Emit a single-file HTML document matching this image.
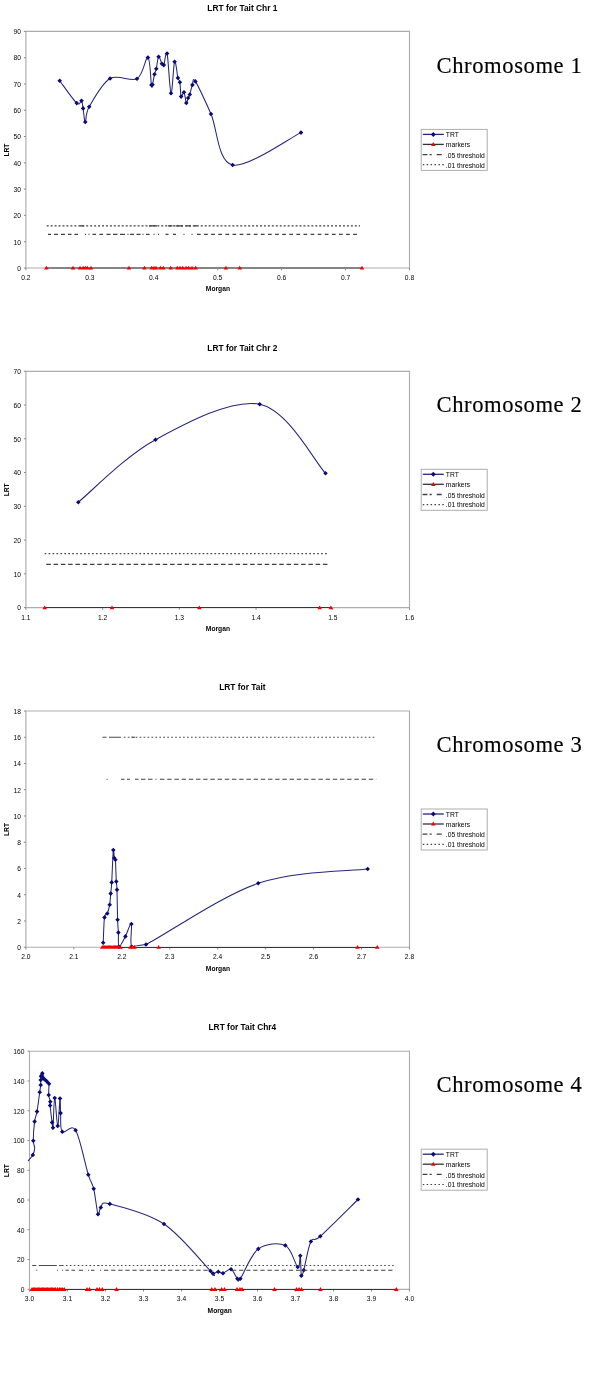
<!DOCTYPE html>
<html><head><meta charset="utf-8"><style>
html,body{margin:0;padding:0;background:#fff;}
svg{display:block;}
text{filter:grayscale(1);}
.t{font-family:"Liberation Sans",sans-serif;font-size:6.7px;fill:#000;}
.a{font-family:"Liberation Sans",sans-serif;font-size:6.7px;font-weight:bold;fill:#000;}
.ti{font-family:"Liberation Sans",sans-serif;font-size:8.4px;font-weight:bold;fill:#000;}
.l{font-family:"Liberation Sans",sans-serif;font-size:6.75px;fill:#000;}
.ch{font-family:"Liberation Serif",serif;font-size:22.6px;letter-spacing:0.6px;fill:#000;stroke:#000;stroke-width:0.15px;}
</style></head><body>
<svg width="600" height="1376" viewBox="0 0 600 1376">
<rect width="600" height="1376" fill="#fff"/>
<path d="M25.9 31.4H409.5V268H25.9Z" fill="none" stroke="#adadad" stroke-width="1.15"/>
<path d="M23.9 268H25.9" stroke="#8a8a8a" stroke-width="1"/>
<text x="20.9" y="270.8" class="t" text-anchor="end">0</text>
<path d="M23.9 241.71H25.9" stroke="#8a8a8a" stroke-width="1"/>
<text x="20.9" y="244.51" class="t" text-anchor="end">10</text>
<path d="M23.9 215.42H25.9" stroke="#8a8a8a" stroke-width="1"/>
<text x="20.9" y="218.22" class="t" text-anchor="end">20</text>
<path d="M23.9 189.13H25.9" stroke="#8a8a8a" stroke-width="1"/>
<text x="20.9" y="191.93" class="t" text-anchor="end">30</text>
<path d="M23.9 162.84H25.9" stroke="#8a8a8a" stroke-width="1"/>
<text x="20.9" y="165.64" class="t" text-anchor="end">40</text>
<path d="M23.9 136.56H25.9" stroke="#8a8a8a" stroke-width="1"/>
<text x="20.9" y="139.36" class="t" text-anchor="end">50</text>
<path d="M23.9 110.27H25.9" stroke="#8a8a8a" stroke-width="1"/>
<text x="20.9" y="113.07" class="t" text-anchor="end">60</text>
<path d="M23.9 83.98H25.9" stroke="#8a8a8a" stroke-width="1"/>
<text x="20.9" y="86.78" class="t" text-anchor="end">70</text>
<path d="M23.9 57.69H25.9" stroke="#8a8a8a" stroke-width="1"/>
<text x="20.9" y="60.49" class="t" text-anchor="end">80</text>
<path d="M23.9 31.4H25.9" stroke="#8a8a8a" stroke-width="1"/>
<text x="20.9" y="34.2" class="t" text-anchor="end">90</text>
<path d="M25.9 268V270.2" stroke="#8a8a8a" stroke-width="1"/>
<text x="25.9" y="279.9" class="t" text-anchor="middle">0.2</text>
<path d="M89.83 268V270.2" stroke="#8a8a8a" stroke-width="1"/>
<text x="89.83" y="279.9" class="t" text-anchor="middle">0.3</text>
<path d="M153.77 268V270.2" stroke="#8a8a8a" stroke-width="1"/>
<text x="153.77" y="279.9" class="t" text-anchor="middle">0.4</text>
<path d="M217.7 268V270.2" stroke="#8a8a8a" stroke-width="1"/>
<text x="217.7" y="279.9" class="t" text-anchor="middle">0.5</text>
<path d="M281.63 268V270.2" stroke="#8a8a8a" stroke-width="1"/>
<text x="281.63" y="279.9" class="t" text-anchor="middle">0.6</text>
<path d="M345.57 268V270.2" stroke="#8a8a8a" stroke-width="1"/>
<text x="345.57" y="279.9" class="t" text-anchor="middle">0.7</text>
<path d="M409.5 268V270.2" stroke="#8a8a8a" stroke-width="1"/>
<text x="409.5" y="279.9" class="t" text-anchor="middle">0.8</text>
<text x="217.9" y="291.3" class="a" text-anchor="middle">Morgan</text>
<text transform="translate(8.5 150.1) rotate(-90)" class="a" text-anchor="middle">LRT</text>
<text x="242.4" y="10.6" class="ti" text-anchor="middle">LRT for Tait Chr 1</text>
<text x="436.5" y="72.5" class="ch">Chromosome 1</text>
<path d="M59.7 80.7 C62.53 84.43 73.07 99.75 76.7 103.1 C80.33 106.45 80.43 99.92 81.5 100.8 C82.57 101.68 82.47 104.87 83.1 108.4 C83.73 111.93 84.28 122.27 85.3 122 C86.32 121.73 85.07 114.05 89.2 106.8 C93.33 99.55 102.13 83.17 110.1 78.5 C118.07 73.83 130.7 82.28 137 78.8 C143.3 75.32 145.5 56.57 147.9 57.6 C150.3 58.63 150.63 80.48 151.4 85 C152.17 89.52 151.98 86.5 152.5 84.7 C153.02 82.9 153.87 76.87 154.5 74.2 C155.13 71.53 155.62 71.62 156.3 68.7 C156.98 65.78 157.67 57.53 158.6 56.7 C159.53 55.87 161.03 62.3 161.9 63.7 C162.77 65.1 162.93 66.8 163.8 65.1 C164.67 63.4 165.9 48.82 167.1 53.5 C168.3 58.18 169.75 91.83 171 93.2 C172.25 94.57 173.45 64.25 174.6 61.7 C175.75 59.15 177.02 74.47 177.9 77.9 C178.78 81.33 179.37 79.18 179.9 82.3 C180.43 85.42 180.42 94.95 181.1 96.6 C181.78 98.25 183.13 91.13 184 92.2 C184.87 93.27 185.62 102.03 186.3 103 C186.98 103.97 187.52 99.42 188.1 98 C188.68 96.58 189.08 96.68 189.8 94.5 C190.52 92.32 191.47 87.08 192.4 84.9 C193.33 82.72 192.3 76.55 195.4 81.4 C198.5 86.25 204.8 100.07 211 114 C217.2 127.93 217.6 161.9 232.6 165 C247.6 168.1 289.6 138 301 132.6" fill="none" stroke="#26267a" stroke-width="1.05"/>
<path d="M59.7 78.4l2.3 2.3l-2.3 2.3l-2.3 -2.3zM76.7 100.8l2.3 2.3l-2.3 2.3l-2.3 -2.3zM81.5 98.5l2.3 2.3l-2.3 2.3l-2.3 -2.3zM83.1 106.1l2.3 2.3l-2.3 2.3l-2.3 -2.3zM85.3 119.7l2.3 2.3l-2.3 2.3l-2.3 -2.3zM89.2 104.5l2.3 2.3l-2.3 2.3l-2.3 -2.3zM110.1 76.2l2.3 2.3l-2.3 2.3l-2.3 -2.3zM137 76.5l2.3 2.3l-2.3 2.3l-2.3 -2.3zM147.9 55.3l2.3 2.3l-2.3 2.3l-2.3 -2.3zM151.4 82.7l2.3 2.3l-2.3 2.3l-2.3 -2.3zM152.5 82.4l2.3 2.3l-2.3 2.3l-2.3 -2.3zM154.5 71.9l2.3 2.3l-2.3 2.3l-2.3 -2.3zM156.3 66.4l2.3 2.3l-2.3 2.3l-2.3 -2.3zM158.6 54.4l2.3 2.3l-2.3 2.3l-2.3 -2.3zM161.9 61.4l2.3 2.3l-2.3 2.3l-2.3 -2.3zM163.8 62.8l2.3 2.3l-2.3 2.3l-2.3 -2.3zM167.1 51.2l2.3 2.3l-2.3 2.3l-2.3 -2.3zM171 90.9l2.3 2.3l-2.3 2.3l-2.3 -2.3zM174.6 59.4l2.3 2.3l-2.3 2.3l-2.3 -2.3zM177.9 75.6l2.3 2.3l-2.3 2.3l-2.3 -2.3zM179.9 80l2.3 2.3l-2.3 2.3l-2.3 -2.3zM181.1 94.3l2.3 2.3l-2.3 2.3l-2.3 -2.3zM184 89.9l2.3 2.3l-2.3 2.3l-2.3 -2.3zM186.3 100.7l2.3 2.3l-2.3 2.3l-2.3 -2.3zM188.1 95.7l2.3 2.3l-2.3 2.3l-2.3 -2.3zM189.8 92.2l2.3 2.3l-2.3 2.3l-2.3 -2.3zM192.4 82.6l2.3 2.3l-2.3 2.3l-2.3 -2.3zM195.4 79.1l2.3 2.3l-2.3 2.3l-2.3 -2.3zM211 111.7l2.3 2.3l-2.3 2.3l-2.3 -2.3zM232.6 162.7l2.3 2.3l-2.3 2.3l-2.3 -2.3zM301 130.3l2.3 2.3l-2.3 2.3l-2.3 -2.3z" fill="#0a0a78"/>
<path d="M46.3 268H362" stroke="#858585" stroke-width="2.0"/>
<path d="M46.3 265.8l2.3 3.8h-4.6zM73 265.8l2.3 3.8h-4.6zM80 265.8l2.3 3.8h-4.6zM83.1 265.8l2.3 3.8h-4.6zM85.3 265.8l2.3 3.8h-4.6zM87.3 265.8l2.3 3.8h-4.6zM91 265.8l2.3 3.8h-4.6zM129 265.8l2.3 3.8h-4.6zM144.4 265.8l2.3 3.8h-4.6zM151.7 265.8l2.3 3.8h-4.6zM154 265.8l2.3 3.8h-4.6zM156 265.8l2.3 3.8h-4.6zM160.4 265.8l2.3 3.8h-4.6zM163.3 265.8l2.3 3.8h-4.6zM170.7 265.8l2.3 3.8h-4.6zM177.3 265.8l2.3 3.8h-4.6zM180 265.8l2.3 3.8h-4.6zM182.7 265.8l2.3 3.8h-4.6zM186 265.8l2.3 3.8h-4.6zM188.7 265.8l2.3 3.8h-4.6zM192 265.8l2.3 3.8h-4.6zM195.7 265.8l2.3 3.8h-4.6zM225.9 265.8l2.3 3.8h-4.6zM239.7 265.8l2.3 3.8h-4.6zM362 265.8l2.3 3.8h-4.6z" fill="#f20000"/>
<path d="M197 234.35H360" stroke="#404040" stroke-width="1.3" stroke-dasharray="3.7 3.4"/>
<path d="M48 234.35H51M54 234.35H58M61 234.35H65M68 234.35H71.5M74.5 234.35H78M85 234.35H86M88.5 234.35H89.5M92.5 234.35H96M99.5 234.35H103M106.5 234.35H110.5M113 234.35H117.5M120 234.35H125M127.5 234.35H128.5M130 234.35H134M136.5 234.35H140.5M142.5 234.35H143.5M146 234.35H149.5M153.5 234.35H154.5M158 234.35H159M165.5 234.35H168.5M173 234.35H176M183.5 234.35H184.5M191.5 234.35H192.5" stroke="#404040" stroke-width="1.3"/>
<path d="M46.7 225.94H360" stroke="#404040" stroke-width="1.3" stroke-dasharray="2 1.95"/>
<path d="M80 225.94H84M149 225.94H157M168 225.94H172.5M175.5 225.94H183M186 225.94H191M194 225.94H197" stroke="#404040" stroke-width="1.3"/>
<rect x="421.2" y="129.4" width="66" height="41" fill="none" stroke="#adadad" stroke-width="1"/>
<path d="M422.8 134.4H443.8" stroke="#26267a" stroke-width="1.3"/>
<path d="M433.3 131.9l2.4 2.5l-2.4 2.5l-2.4 -2.5z" fill="#0a0a78"/>
<path d="M422.8 144.4H443.8" stroke="#333333" stroke-width="1.3"/>
<path d="M433.3 142l2.2 4h-4.4z" fill="#f20000"/>
<path d="M422.6 154.6H442.3" stroke="#404040" stroke-width="1.3" stroke-dasharray="4.8 2.2 2.1 5 5 9"/>
<path d="M422.8 164.7H443.8" stroke="#404040" stroke-width="1.2" stroke-dasharray="1.5 2.4"/>
<text x="445.8" y="137.3" class="l">TRT</text>
<text x="445.8" y="147.3" class="l">markers</text>
<text x="445.8" y="157.7" class="l">.05 threshold</text>
<text x="445.8" y="167.5" class="l">.01 threshold</text>
<path d="M25.9 371.3H409.5V607.6H25.9Z" fill="none" stroke="#adadad" stroke-width="1.15"/>
<path d="M23.9 607.6H25.9" stroke="#8a8a8a" stroke-width="1"/>
<text x="20.9" y="610.4" class="t" text-anchor="end">0</text>
<path d="M23.9 573.84H25.9" stroke="#8a8a8a" stroke-width="1"/>
<text x="20.9" y="576.64" class="t" text-anchor="end">10</text>
<path d="M23.9 540.09H25.9" stroke="#8a8a8a" stroke-width="1"/>
<text x="20.9" y="542.89" class="t" text-anchor="end">20</text>
<path d="M23.9 506.33H25.9" stroke="#8a8a8a" stroke-width="1"/>
<text x="20.9" y="509.13" class="t" text-anchor="end">30</text>
<path d="M23.9 472.57H25.9" stroke="#8a8a8a" stroke-width="1"/>
<text x="20.9" y="475.37" class="t" text-anchor="end">40</text>
<path d="M23.9 438.81H25.9" stroke="#8a8a8a" stroke-width="1"/>
<text x="20.9" y="441.61" class="t" text-anchor="end">50</text>
<path d="M23.9 405.06H25.9" stroke="#8a8a8a" stroke-width="1"/>
<text x="20.9" y="407.86" class="t" text-anchor="end">60</text>
<path d="M23.9 371.3H25.9" stroke="#8a8a8a" stroke-width="1"/>
<text x="20.9" y="374.1" class="t" text-anchor="end">70</text>
<path d="M25.9 607.6V609.8" stroke="#8a8a8a" stroke-width="1"/>
<text x="25.9" y="619.5" class="t" text-anchor="middle">1.1</text>
<path d="M102.62 607.6V609.8" stroke="#8a8a8a" stroke-width="1"/>
<text x="102.62" y="619.5" class="t" text-anchor="middle">1.2</text>
<path d="M179.34 607.6V609.8" stroke="#8a8a8a" stroke-width="1"/>
<text x="179.34" y="619.5" class="t" text-anchor="middle">1.3</text>
<path d="M256.06 607.6V609.8" stroke="#8a8a8a" stroke-width="1"/>
<text x="256.06" y="619.5" class="t" text-anchor="middle">1.4</text>
<path d="M332.78 607.6V609.8" stroke="#8a8a8a" stroke-width="1"/>
<text x="332.78" y="619.5" class="t" text-anchor="middle">1.5</text>
<path d="M409.5 607.6V609.8" stroke="#8a8a8a" stroke-width="1"/>
<text x="409.5" y="619.5" class="t" text-anchor="middle">1.6</text>
<text x="217.9" y="630.9" class="a" text-anchor="middle">Morgan</text>
<text transform="translate(8.5 489.85) rotate(-90)" class="a" text-anchor="middle">LRT</text>
<text x="242.4" y="350.5" class="ti" text-anchor="middle">LRT for Tait Chr 2</text>
<text x="436.5" y="412.4" class="ch">Chromosome 2</text>
<path d="M78.3 502.2 C91.17 491.78 125.27 456.03 155.5 439.7 C185.73 423.37 231.37 398.6 259.7 404.2 C288.03 409.8 314.53 461.78 325.5 473.3" fill="none" stroke="#26267a" stroke-width="1.05"/>
<path d="M78.3 499.9l2.3 2.3l-2.3 2.3l-2.3 -2.3zM155.5 437.4l2.3 2.3l-2.3 2.3l-2.3 -2.3zM259.7 401.9l2.3 2.3l-2.3 2.3l-2.3 -2.3zM325.5 471l2.3 2.3l-2.3 2.3l-2.3 -2.3z" fill="#0a0a78"/>
<path d="M44.7 607.5H330.9" stroke="#363636" stroke-width="1.15"/>
<path d="M44.7 605.4l2.3 3.8h-4.6zM112 605.4l2.3 3.8h-4.6zM199.3 605.4l2.3 3.8h-4.6zM319.7 605.4l2.3 3.8h-4.6zM330.9 605.4l2.3 3.8h-4.6z" fill="#f20000"/>
<path d="M46.3 564.39H330" stroke="#404040" stroke-width="1.15" stroke-dasharray="4.5 2.78"/>
<path d="M44.6 553.59H329" stroke="#4a4a4a" stroke-width="1.1" stroke-dasharray="1.7 2.25"/>
<rect x="421.2" y="469.3" width="66" height="41" fill="none" stroke="#adadad" stroke-width="1"/>
<path d="M422.8 474.3H443.8" stroke="#26267a" stroke-width="1.3"/>
<path d="M433.3 471.8l2.4 2.5l-2.4 2.5l-2.4 -2.5z" fill="#0a0a78"/>
<path d="M422.8 484.3H443.8" stroke="#333333" stroke-width="1.3"/>
<path d="M433.3 481.9l2.2 4h-4.4z" fill="#f20000"/>
<path d="M422.6 494.5H442.3" stroke="#404040" stroke-width="1.3" stroke-dasharray="4.8 2.2 2.1 5 5 9"/>
<path d="M422.8 504.6H443.8" stroke="#404040" stroke-width="1.2" stroke-dasharray="1.5 2.4"/>
<text x="445.8" y="477.2" class="l">TRT</text>
<text x="445.8" y="487.2" class="l">markers</text>
<text x="445.8" y="497.6" class="l">.05 threshold</text>
<text x="445.8" y="507.4" class="l">.01 threshold</text>
<path d="M25.9 711H409.5V947.2H25.9Z" fill="none" stroke="#adadad" stroke-width="1.15"/>
<path d="M23.9 947.2H25.9" stroke="#8a8a8a" stroke-width="1"/>
<text x="20.9" y="950" class="t" text-anchor="end">0</text>
<path d="M23.9 920.96H25.9" stroke="#8a8a8a" stroke-width="1"/>
<text x="20.9" y="923.76" class="t" text-anchor="end">2</text>
<path d="M23.9 894.71H25.9" stroke="#8a8a8a" stroke-width="1"/>
<text x="20.9" y="897.51" class="t" text-anchor="end">4</text>
<path d="M23.9 868.47H25.9" stroke="#8a8a8a" stroke-width="1"/>
<text x="20.9" y="871.27" class="t" text-anchor="end">6</text>
<path d="M23.9 842.22H25.9" stroke="#8a8a8a" stroke-width="1"/>
<text x="20.9" y="845.02" class="t" text-anchor="end">8</text>
<path d="M23.9 815.98H25.9" stroke="#8a8a8a" stroke-width="1"/>
<text x="20.9" y="818.78" class="t" text-anchor="end">10</text>
<path d="M23.9 789.73H25.9" stroke="#8a8a8a" stroke-width="1"/>
<text x="20.9" y="792.53" class="t" text-anchor="end">12</text>
<path d="M23.9 763.49H25.9" stroke="#8a8a8a" stroke-width="1"/>
<text x="20.9" y="766.29" class="t" text-anchor="end">14</text>
<path d="M23.9 737.24H25.9" stroke="#8a8a8a" stroke-width="1"/>
<text x="20.9" y="740.04" class="t" text-anchor="end">16</text>
<path d="M23.9 711H25.9" stroke="#8a8a8a" stroke-width="1"/>
<text x="20.9" y="713.8" class="t" text-anchor="end">18</text>
<path d="M25.9 947.2V949.4" stroke="#8a8a8a" stroke-width="1"/>
<text x="25.9" y="959.1" class="t" text-anchor="middle">2.0</text>
<path d="M73.85 947.2V949.4" stroke="#8a8a8a" stroke-width="1"/>
<text x="73.85" y="959.1" class="t" text-anchor="middle">2.1</text>
<path d="M121.8 947.2V949.4" stroke="#8a8a8a" stroke-width="1"/>
<text x="121.8" y="959.1" class="t" text-anchor="middle">2.2</text>
<path d="M169.75 947.2V949.4" stroke="#8a8a8a" stroke-width="1"/>
<text x="169.75" y="959.1" class="t" text-anchor="middle">2.3</text>
<path d="M217.7 947.2V949.4" stroke="#8a8a8a" stroke-width="1"/>
<text x="217.7" y="959.1" class="t" text-anchor="middle">2.4</text>
<path d="M265.65 947.2V949.4" stroke="#8a8a8a" stroke-width="1"/>
<text x="265.65" y="959.1" class="t" text-anchor="middle">2.5</text>
<path d="M313.6 947.2V949.4" stroke="#8a8a8a" stroke-width="1"/>
<text x="313.6" y="959.1" class="t" text-anchor="middle">2.6</text>
<path d="M361.55 947.2V949.4" stroke="#8a8a8a" stroke-width="1"/>
<text x="361.55" y="959.1" class="t" text-anchor="middle">2.7</text>
<path d="M409.5 947.2V949.4" stroke="#8a8a8a" stroke-width="1"/>
<text x="409.5" y="959.1" class="t" text-anchor="middle">2.8</text>
<text x="217.9" y="970.5" class="a" text-anchor="middle">Morgan</text>
<text transform="translate(8.5 829.5) rotate(-90)" class="a" text-anchor="middle">LRT</text>
<text x="242.4" y="690.2" class="ti" text-anchor="middle">LRT for Tait</text>
<text x="436.5" y="752.1" class="ch">Chromosome 3</text>
<path d="M103.2 942.7 C103.42 938.48 103.82 922.27 104.5 917.4 C105.18 912.53 106.43 915.62 107.3 913.5 C108.17 911.38 109.13 908.02 109.7 904.7 C110.27 901.38 110.37 897.32 110.7 893.6 C111.03 889.88 111.27 889.67 111.7 882.4 C112.13 875.13 112.87 854.07 113.3 850 C113.73 845.93 113.95 856.38 114.3 858 C114.65 859.62 115.07 855.77 115.4 859.7 C115.73 863.63 116.03 876.6 116.3 881.6 C116.57 886.6 116.78 883.33 117 889.7 C117.22 896.07 117.37 912.65 117.6 919.8 C117.83 926.95 118.17 928.1 118.4 932.6 C118.63 937.1 117.83 946.17 119 946.8 C120.17 947.2 123.33 940.2 125.4 936.4 C127.47 932.6 130.33 922.27 131.4 924 C132.47 925.73 129.37 943.38 131.8 946.8 C134.23 947.2 124.93 947.2 146 944.5 C167.07 933.92 221.25 895.88 258.2 883.3 C295.15 870.72 349.45 871.38 367.7 869" fill="none" stroke="#26267a" stroke-width="1.05"/>
<path d="M103.2 940.4l2.3 2.3l-2.3 2.3l-2.3 -2.3zM104.5 915.1l2.3 2.3l-2.3 2.3l-2.3 -2.3zM107.3 911.2l2.3 2.3l-2.3 2.3l-2.3 -2.3zM109.7 902.4l2.3 2.3l-2.3 2.3l-2.3 -2.3zM110.7 891.3l2.3 2.3l-2.3 2.3l-2.3 -2.3zM111.7 880.1l2.3 2.3l-2.3 2.3l-2.3 -2.3zM113.3 847.7l2.3 2.3l-2.3 2.3l-2.3 -2.3zM114.3 855.7l2.3 2.3l-2.3 2.3l-2.3 -2.3zM115.4 857.4l2.3 2.3l-2.3 2.3l-2.3 -2.3zM116.3 879.3l2.3 2.3l-2.3 2.3l-2.3 -2.3zM117 887.4l2.3 2.3l-2.3 2.3l-2.3 -2.3zM117.6 917.5l2.3 2.3l-2.3 2.3l-2.3 -2.3zM118.4 930.3l2.3 2.3l-2.3 2.3l-2.3 -2.3zM119 944.5l2.3 2.3l-2.3 2.3l-2.3 -2.3zM125.4 934.1l2.3 2.3l-2.3 2.3l-2.3 -2.3zM131.4 921.7l2.3 2.3l-2.3 2.3l-2.3 -2.3zM131.8 944.5l2.3 2.3l-2.3 2.3l-2.3 -2.3zM146 942.2l2.3 2.3l-2.3 2.3l-2.3 -2.3zM258.2 881l2.3 2.3l-2.3 2.3l-2.3 -2.3zM367.7 866.7l2.3 2.3l-2.3 2.3l-2.3 -2.3z" fill="#0a0a78"/>
<path d="M102.3 947.5H377.3" stroke="#363636" stroke-width="1.15"/>
<path d="M102.3 945l2.3 3.8h-4.6zM103.5 945l2.3 3.8h-4.6zM104.7 945l2.3 3.8h-4.6zM105.9 945l2.3 3.8h-4.6zM107.1 945l2.3 3.8h-4.6zM108.3 945l2.3 3.8h-4.6zM109.5 945l2.3 3.8h-4.6zM110.7 945l2.3 3.8h-4.6zM111.9 945l2.3 3.8h-4.6zM113.1 945l2.3 3.8h-4.6zM114.3 945l2.3 3.8h-4.6zM115.5 945l2.3 3.8h-4.6zM116.7 945l2.3 3.8h-4.6zM117.9 945l2.3 3.8h-4.6zM119.1 945l2.3 3.8h-4.6zM120.3 945l2.3 3.8h-4.6zM130.5 945l2.3 3.8h-4.6zM132.5 945l2.3 3.8h-4.6zM134.4 945l2.3 3.8h-4.6zM158.6 945l2.3 3.8h-4.6zM357.5 945l2.3 3.8h-4.6zM377.3 945l2.3 3.8h-4.6z" fill="#f20000"/>
<path d="M160 779.24H376.2" stroke="#404040" stroke-width="1.15" stroke-dasharray="4.4 2.8"/>
<path d="M106.6 779.24H107.6M121 779.24H124.5M127 779.24H130M135 779.24H138.5M141 779.24H145.5M148 779.24H152.5M155.5 779.24H156.5" stroke="#404040" stroke-width="1.15"/>
<path d="M123.8 737.24H375.5" stroke="#4a4a4a" stroke-width="1.1" stroke-dasharray="1.7 2.25"/>
<path d="M102.5 737.24H106.5M109 737.24H121M131.5 737.24H135" stroke="#4a4a4a" stroke-width="1.1"/>
<rect x="421.2" y="809" width="66" height="41" fill="none" stroke="#adadad" stroke-width="1"/>
<path d="M422.8 814H443.8" stroke="#26267a" stroke-width="1.3"/>
<path d="M433.3 811.5l2.4 2.5l-2.4 2.5l-2.4 -2.5z" fill="#0a0a78"/>
<path d="M422.8 824H443.8" stroke="#333333" stroke-width="1.3"/>
<path d="M433.3 821.6l2.2 4h-4.4z" fill="#f20000"/>
<path d="M422.6 834.2H442.3" stroke="#404040" stroke-width="1.3" stroke-dasharray="4.8 2.2 2.1 5 5 9"/>
<path d="M422.8 844.3H443.8" stroke="#404040" stroke-width="1.2" stroke-dasharray="1.5 2.4"/>
<text x="445.8" y="816.9" class="l">TRT</text>
<text x="445.8" y="826.9" class="l">markers</text>
<text x="445.8" y="837.3" class="l">.05 threshold</text>
<text x="445.8" y="847.1" class="l">.01 threshold</text>
<path d="M29.5 1051.2H409.5V1289.3H29.5Z" fill="none" stroke="#adadad" stroke-width="1.15"/>
<path d="M27.5 1289.3H29.5" stroke="#8a8a8a" stroke-width="1"/>
<text x="24.5" y="1292.1" class="t" text-anchor="end">0</text>
<path d="M27.5 1259.54H29.5" stroke="#8a8a8a" stroke-width="1"/>
<text x="24.5" y="1262.34" class="t" text-anchor="end">20</text>
<path d="M27.5 1229.78H29.5" stroke="#8a8a8a" stroke-width="1"/>
<text x="24.5" y="1232.58" class="t" text-anchor="end">40</text>
<path d="M27.5 1200.01H29.5" stroke="#8a8a8a" stroke-width="1"/>
<text x="24.5" y="1202.81" class="t" text-anchor="end">60</text>
<path d="M27.5 1170.25H29.5" stroke="#8a8a8a" stroke-width="1"/>
<text x="24.5" y="1173.05" class="t" text-anchor="end">80</text>
<path d="M27.5 1140.49H29.5" stroke="#8a8a8a" stroke-width="1"/>
<text x="24.5" y="1143.29" class="t" text-anchor="end">100</text>
<path d="M27.5 1110.72H29.5" stroke="#8a8a8a" stroke-width="1"/>
<text x="24.5" y="1113.52" class="t" text-anchor="end">120</text>
<path d="M27.5 1080.96H29.5" stroke="#8a8a8a" stroke-width="1"/>
<text x="24.5" y="1083.76" class="t" text-anchor="end">140</text>
<path d="M27.5 1051.2H29.5" stroke="#8a8a8a" stroke-width="1"/>
<text x="24.5" y="1054" class="t" text-anchor="end">160</text>
<path d="M29.5 1289.3V1291.5" stroke="#8a8a8a" stroke-width="1"/>
<text x="29.5" y="1301.2" class="t" text-anchor="middle">3.0</text>
<path d="M67.5 1289.3V1291.5" stroke="#8a8a8a" stroke-width="1"/>
<text x="67.5" y="1301.2" class="t" text-anchor="middle">3.1</text>
<path d="M105.5 1289.3V1291.5" stroke="#8a8a8a" stroke-width="1"/>
<text x="105.5" y="1301.2" class="t" text-anchor="middle">3.2</text>
<path d="M143.5 1289.3V1291.5" stroke="#8a8a8a" stroke-width="1"/>
<text x="143.5" y="1301.2" class="t" text-anchor="middle">3.3</text>
<path d="M181.5 1289.3V1291.5" stroke="#8a8a8a" stroke-width="1"/>
<text x="181.5" y="1301.2" class="t" text-anchor="middle">3.4</text>
<path d="M219.5 1289.3V1291.5" stroke="#8a8a8a" stroke-width="1"/>
<text x="219.5" y="1301.2" class="t" text-anchor="middle">3.5</text>
<path d="M257.5 1289.3V1291.5" stroke="#8a8a8a" stroke-width="1"/>
<text x="257.5" y="1301.2" class="t" text-anchor="middle">3.6</text>
<path d="M295.5 1289.3V1291.5" stroke="#8a8a8a" stroke-width="1"/>
<text x="295.5" y="1301.2" class="t" text-anchor="middle">3.7</text>
<path d="M333.5 1289.3V1291.5" stroke="#8a8a8a" stroke-width="1"/>
<text x="333.5" y="1301.2" class="t" text-anchor="middle">3.8</text>
<path d="M371.5 1289.3V1291.5" stroke="#8a8a8a" stroke-width="1"/>
<text x="371.5" y="1301.2" class="t" text-anchor="middle">3.9</text>
<path d="M409.5 1289.3V1291.5" stroke="#8a8a8a" stroke-width="1"/>
<text x="409.5" y="1301.2" class="t" text-anchor="middle">4.0</text>
<text x="219.7" y="1312.6" class="a" text-anchor="middle">Morgan</text>
<text transform="translate(8.5 1170.65) rotate(-90)" class="a" text-anchor="middle">LRT</text>
<text x="242.4" y="1030.4" class="ti" text-anchor="middle">LRT for Tait Chr4</text>
<text x="436.5" y="1092.3" class="ch">Chromosome 4</text>
<path d="M28 1161 C28.8 1160 31.68 1157.17 32.8 1155 C33.92 1152.83 34.62 1150.37 34.7 1148 C34.78 1145.63 33.32 1145.2 33.3 1140.8 C33.28 1136.4 33.98 1126.47 34.6 1121.6 C35.22 1116.73 36.15 1116.5 37 1111.6 C37.85 1106.7 39.08 1096.63 39.7 1092.2 C40.32 1087.77 40.53 1087.03 40.7 1085 C40.87 1082.97 40.65 1081.45 40.7 1080 C40.75 1078.55 40.73 1077.42 41 1076.3 C41.27 1075.18 42.13 1073.52 42.3 1073.3 C42.47 1073.08 41.93 1074.33 42 1075 C42.07 1075.67 42.37 1076.63 42.7 1077.3 C43.03 1077.97 43.57 1078.55 44 1079 C44.43 1079.45 44.85 1079.62 45.3 1080 C45.75 1080.38 46.25 1080.85 46.7 1081.3 C47.15 1081.75 47.62 1082.3 48 1082.7 C48.38 1083.1 48.88 1081.65 49 1083.7 C49.12 1085.75 48.48 1092 48.7 1095 C48.92 1098 50.07 1099.95 50.3 1101.7 C50.53 1103.45 49.8 1102.05 50.1 1105.5 C50.4 1108.95 51.62 1118.7 52.1 1122.4 C52.58 1126.1 52.57 1131.77 53 1127.7 C53.43 1123.63 53.92 1098.3 54.7 1098 C55.48 1097.7 56.82 1125.82 57.7 1125.9 C58.58 1125.98 59.52 1100.63 60 1098.5 C60.48 1096.37 60.22 1107.55 60.6 1113.1 C60.98 1118.65 59.8 1128.95 62.3 1131.8 C64.8 1134.65 71.27 1123.05 75.6 1130.2 C79.93 1137.35 85.28 1164.93 88.3 1174.7 C91.32 1184.47 92.08 1182.22 93.7 1188.8 C95.32 1195.38 96.82 1211.08 98 1214.2 C99.18 1217.32 98.83 1209.22 100.8 1207.5 C102.77 1205.78 99.27 1201.15 109.8 1203.9 C120.33 1206.65 147.22 1212.82 164 1224 C180.78 1235.18 202.33 1262.73 210.5 1271 C218.67 1279.27 211.7 1273.48 213 1273.6 C214.3 1273.72 216.63 1271.75 218.3 1271.7 C219.97 1271.65 220.88 1273.7 223 1273.3 C225.12 1272.9 228.6 1268.4 231 1269.3 C233.4 1270.2 235.85 1277.13 237.4 1278.7 C238.95 1280.27 236.82 1283.67 240.3 1278.7 C243.78 1273.73 250.8 1254.45 258.3 1248.9 C265.8 1243.35 278.73 1242.38 285.3 1245.4 C291.87 1248.42 295.2 1265.28 297.7 1267 C300.2 1268.72 299.7 1254.25 300.3 1255.7 C300.9 1257.15 300.73 1273.27 301.3 1275.7 C301.87 1278.13 302.1 1276 303.7 1270.3 C305.3 1264.6 308.13 1247.17 310.9 1241.5 C313.67 1235.83 312.45 1243.3 320.3 1236.3 C328.15 1229.3 351.72 1205.63 358 1199.5" fill="none" stroke="#26267a" stroke-width="1.05"/>
<path d="M32.8 1152.7l2.3 2.3l-2.3 2.3l-2.3 -2.3zM33.3 1138.5l2.3 2.3l-2.3 2.3l-2.3 -2.3zM34.6 1119.3l2.3 2.3l-2.3 2.3l-2.3 -2.3zM37 1109.3l2.3 2.3l-2.3 2.3l-2.3 -2.3zM39.7 1089.9l2.3 2.3l-2.3 2.3l-2.3 -2.3zM40.7 1082.7l2.3 2.3l-2.3 2.3l-2.3 -2.3zM40.7 1077.7l2.3 2.3l-2.3 2.3l-2.3 -2.3zM41 1074l2.3 2.3l-2.3 2.3l-2.3 -2.3zM42.3 1071l2.3 2.3l-2.3 2.3l-2.3 -2.3zM42 1072.7l2.3 2.3l-2.3 2.3l-2.3 -2.3zM42.7 1075l2.3 2.3l-2.3 2.3l-2.3 -2.3zM44 1076.7l2.3 2.3l-2.3 2.3l-2.3 -2.3zM45.3 1077.7l2.3 2.3l-2.3 2.3l-2.3 -2.3zM46.7 1079l2.3 2.3l-2.3 2.3l-2.3 -2.3zM48 1080.4l2.3 2.3l-2.3 2.3l-2.3 -2.3zM49 1081.4l2.3 2.3l-2.3 2.3l-2.3 -2.3zM48.7 1092.7l2.3 2.3l-2.3 2.3l-2.3 -2.3zM50.3 1099.4l2.3 2.3l-2.3 2.3l-2.3 -2.3zM50.1 1103.2l2.3 2.3l-2.3 2.3l-2.3 -2.3zM52.1 1120.1l2.3 2.3l-2.3 2.3l-2.3 -2.3zM53 1125.4l2.3 2.3l-2.3 2.3l-2.3 -2.3zM54.7 1095.7l2.3 2.3l-2.3 2.3l-2.3 -2.3zM57.7 1123.6l2.3 2.3l-2.3 2.3l-2.3 -2.3zM60 1096.2l2.3 2.3l-2.3 2.3l-2.3 -2.3zM60.6 1110.8l2.3 2.3l-2.3 2.3l-2.3 -2.3zM62.3 1129.5l2.3 2.3l-2.3 2.3l-2.3 -2.3zM75.6 1127.9l2.3 2.3l-2.3 2.3l-2.3 -2.3zM88.3 1172.4l2.3 2.3l-2.3 2.3l-2.3 -2.3zM93.7 1186.5l2.3 2.3l-2.3 2.3l-2.3 -2.3zM98 1211.9l2.3 2.3l-2.3 2.3l-2.3 -2.3zM100.8 1205.2l2.3 2.3l-2.3 2.3l-2.3 -2.3zM109.8 1201.6l2.3 2.3l-2.3 2.3l-2.3 -2.3zM164 1221.7l2.3 2.3l-2.3 2.3l-2.3 -2.3zM210.5 1268.7l2.3 2.3l-2.3 2.3l-2.3 -2.3zM213 1271.3l2.3 2.3l-2.3 2.3l-2.3 -2.3zM218.3 1269.4l2.3 2.3l-2.3 2.3l-2.3 -2.3zM223 1271l2.3 2.3l-2.3 2.3l-2.3 -2.3zM231 1267l2.3 2.3l-2.3 2.3l-2.3 -2.3zM237.4 1276.4l2.3 2.3l-2.3 2.3l-2.3 -2.3zM240.3 1276.4l2.3 2.3l-2.3 2.3l-2.3 -2.3zM258.3 1246.6l2.3 2.3l-2.3 2.3l-2.3 -2.3zM285.3 1243.1l2.3 2.3l-2.3 2.3l-2.3 -2.3zM297.7 1264.7l2.3 2.3l-2.3 2.3l-2.3 -2.3zM300.3 1253.4l2.3 2.3l-2.3 2.3l-2.3 -2.3zM301.3 1273.4l2.3 2.3l-2.3 2.3l-2.3 -2.3zM303.7 1268l2.3 2.3l-2.3 2.3l-2.3 -2.3zM310.9 1239.2l2.3 2.3l-2.3 2.3l-2.3 -2.3zM320.3 1234l2.3 2.3l-2.3 2.3l-2.3 -2.3zM358 1197.2l2.3 2.3l-2.3 2.3l-2.3 -2.3z" fill="#0a0a78"/>
<path d="M32 1289.5H396.3" stroke="#363636" stroke-width="1.15"/>
<path d="M32 1287.1l2.3 3.8h-4.6zM33.3 1287.1l2.3 3.8h-4.6zM34.6 1287.1l2.3 3.8h-4.6zM35.9 1287.1l2.3 3.8h-4.6zM37.2 1287.1l2.3 3.8h-4.6zM38.5 1287.1l2.3 3.8h-4.6zM39.8 1287.1l2.3 3.8h-4.6zM41.1 1287.1l2.3 3.8h-4.6zM42.4 1287.1l2.3 3.8h-4.6zM43.7 1287.1l2.3 3.8h-4.6zM45 1287.1l2.3 3.8h-4.6zM46.3 1287.1l2.3 3.8h-4.6zM47.6 1287.1l2.3 3.8h-4.6zM48.9 1287.1l2.3 3.8h-4.6zM50.2 1287.1l2.3 3.8h-4.6zM51.5 1287.1l2.3 3.8h-4.6zM52.8 1287.1l2.3 3.8h-4.6zM54.1 1287.1l2.3 3.8h-4.6zM55.4 1287.1l2.3 3.8h-4.6zM57.5 1287.1l2.3 3.8h-4.6zM59.5 1287.1l2.3 3.8h-4.6zM61 1287.1l2.3 3.8h-4.6zM62.5 1287.1l2.3 3.8h-4.6zM64.3 1287.1l2.3 3.8h-4.6zM87 1287.1l2.3 3.8h-4.6zM89.5 1287.1l2.3 3.8h-4.6zM97 1287.1l2.3 3.8h-4.6zM99.5 1287.1l2.3 3.8h-4.6zM102.3 1287.1l2.3 3.8h-4.6zM116.5 1287.1l2.3 3.8h-4.6zM211.8 1287.1l2.3 3.8h-4.6zM215 1287.1l2.3 3.8h-4.6zM221.7 1287.1l2.3 3.8h-4.6zM224.5 1287.1l2.3 3.8h-4.6zM237 1287.1l2.3 3.8h-4.6zM240 1287.1l2.3 3.8h-4.6zM242 1287.1l2.3 3.8h-4.6zM274.5 1287.1l2.3 3.8h-4.6zM296.5 1287.1l2.3 3.8h-4.6zM299 1287.1l2.3 3.8h-4.6zM301.5 1287.1l2.3 3.8h-4.6zM320.5 1287.1l2.3 3.8h-4.6zM396.3 1287.1l2.3 3.8h-4.6z" fill="#f20000"/>
<path d="M104 1270.25H210.5" stroke="#404040" stroke-width="1.15" stroke-dasharray="4.3 2.8"/>
<path d="M232 1270.25H395.5" stroke="#404040" stroke-width="1.15" stroke-dasharray="4.3 2.8"/>
<path d="M36.3 1270.25H37.3M57.1 1270.25H58.1M62.1 1270.25H63.1M65.5 1270.25H68.8M71.5 1270.25H75M79 1270.25H83M88 1270.25H89M91 1270.25H94.5M100 1270.25H101" stroke="#404040" stroke-width="1.15"/>
<path d="M62 1265.49H396" stroke="#4a4a4a" stroke-width="1.1" stroke-dasharray="1.6 2.33"/>
<path d="M32.2 1265.49H36.3M38.8 1265.49H56.8M59.2 1265.49H61.8M97.5 1265.49H99.5" stroke="#4a4a4a" stroke-width="1.1"/>
<rect x="421.2" y="1149.2" width="66" height="41" fill="none" stroke="#adadad" stroke-width="1"/>
<path d="M422.8 1154.2H443.8" stroke="#26267a" stroke-width="1.3"/>
<path d="M433.3 1151.7l2.4 2.5l-2.4 2.5l-2.4 -2.5z" fill="#0a0a78"/>
<path d="M422.8 1164.2H443.8" stroke="#333333" stroke-width="1.3"/>
<path d="M433.3 1161.8l2.2 4h-4.4z" fill="#f20000"/>
<path d="M422.6 1174.4H442.3" stroke="#404040" stroke-width="1.3" stroke-dasharray="4.8 2.2 2.1 5 5 9"/>
<path d="M422.8 1184.5H443.8" stroke="#404040" stroke-width="1.2" stroke-dasharray="1.5 2.4"/>
<text x="445.8" y="1157.1" class="l">TRT</text>
<text x="445.8" y="1167.1" class="l">markers</text>
<text x="445.8" y="1177.5" class="l">.05 threshold</text>
<text x="445.8" y="1187.3" class="l">.01 threshold</text>
</svg>
</body></html>
